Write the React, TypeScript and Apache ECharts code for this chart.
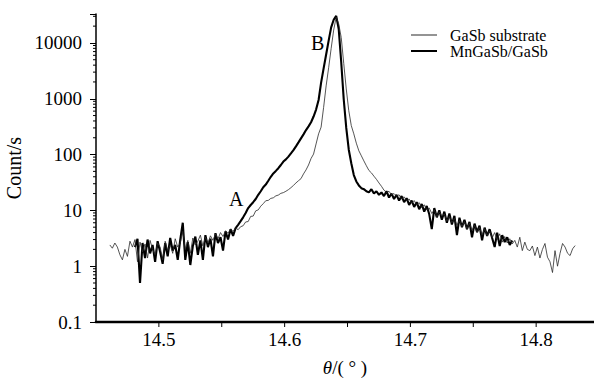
import React, { useEffect, useRef } from 'react';
import * as echarts from 'echarts';

const FONT = '"Liberation Serif", "Times New Roman", serif';

const W = 594;
const H = 379;
const GRID_LEFT = 96;
const GRID_RIGHT = 0;
const GRID_TOP = 14;
const GRID_BOTTOM = 57;

const X_MIN = 14.45;
const X_MAX = 14.846;
const Y_MIN = 0.1;
const Y_MAX = 33000;

const xTickLabels = ['14.5', '14.6', '14.7', '14.8'];
const xTickValues = [14.5, 14.55, 14.6, 14.65, 14.7, 14.75, 14.8];
const yTickLabels = ['0.1', '1', '10', '100', '1000', '10000'];
const minorMultipliers = [2, 3, 4, 5, 6, 7, 8, 9];

const SCAN_STEP = 0.002;
const thinStart = 14.461;
const thickStart = 14.481;

// GaSb substrate (thin line), counts/s
const countThin = [
  2.4, 2.1, 2.6, 2.2, 1.6, 1.3, 2.0, 1.5, 2.8, 2.2,
  3.0, 1.2, 2.7, 1.8, 2.5, 1.4, 2.9, 2.0, 1.6, 2.6,
  2.2, 1.3, 2.8, 1.9, 2.4, 1.7, 3.1, 2.2, 2.6, 4.2,
  2.0, 2.9, 1.7, 3.2, 2.4, 2.8, 3.6, 2.3, 3.3, 2.6,
  3.5, 2.9, 3.8, 3.1, 4.0, 3.4, 4.3, 3.9, 4.6, 4.2,
  4.9, 4.5, 5.1, 5.3, 6.2, 6.3, 7.8, 7.9, 9.8, 10.2,
  11.9, 13.2, 14.9, 15.1, 16.4, 16.8, 18.2, 18.8, 20.2, 20.8,
  22, 23.5, 25.5, 28, 31, 34, 37, 45, 53, 65,
  85, 102, 155, 235, 310, 700, 1700, 3600, 8000, 17000,
  29000, 22000, 12500, 4300, 1500, 610, 330, 235, 160, 117,
  95, 77, 63, 52, 47, 41, 36, 31, 27, 23,
  21, 22, 19, 20, 18, 19, 16, 17.5, 15, 16,
  13.5, 15, 12.5, 13.8, 11.2, 12.6, 10.2, 11.0, 8.8, 10.2,
  7.6, 9.4, 7.9, 8.6, 6.4, 7.8, 6.0, 7.2, 5.4, 6.6,
  5.1, 6.3, 4.6, 5.9, 4.4, 5.4, 4.0, 5.0, 3.6, 4.7,
  3.5, 4.3, 3.2, 4.0, 3.0, 3.8, 2.7, 3.4, 2.6, 3.1,
  2.5, 2.9, 2.2, 3.3, 1.9, 2.7, 2.0, 1.9, 2.3, 1.55,
  2.2, 1.4, 2.0, 2.55, 1.45, 1.2, 0.77, 1.9, 1.0, 1.7,
  2.55, 2.2, 1.7, 1.55, 2.05, 2.34,
];

// MnGaSb/GaSb (thick line), counts/s
const countThick = [
  2.2, 3.1, 0.5, 2.6, 1.4, 3.0, 1.7, 2.4, 1.2, 2.8,
  1.8, 1.1, 2.6, 1.5, 3.2, 1.9, 2.4, 1.3, 3.0, 6.0,
  1.3, 2.7, 1.05, 2.3, 3.4, 1.6, 2.9, 1.3, 3.6, 2.2,
  3.1, 1.5, 3.9, 2.6, 3.3, 1.9, 4.2, 3.0, 4.6, 3.5,
  4.8, 5.5, 6.4, 7.5, 9, 11, 12.5, 14, 16, 19,
  22, 26, 29, 34, 40, 46, 51, 57, 65, 75,
  82, 92, 105, 120, 140, 165, 195, 230, 275, 320,
  380, 480, 640, 950, 1950, 3500, 6200, 11000, 19000, 26000,
  30500, 17800, 4500, 970, 300, 122, 70, 43, 33, 28,
  25, 24, 22, 21, 24, 20, 22, 19, 21, 18,
  22, 17, 20, 16, 19, 15, 18, 14, 16.5, 12.5,
  15, 11.5, 14, 10.5, 13, 9.5, 12, 8.5, 4.6, 11,
  7.5, 10, 6.8, 9.5, 6.0, 8.8, 5.6, 8.0, 3.6, 7.4,
  5.0, 6.8, 4.6, 6.2, 3.3, 5.8, 4.1, 5.3, 2.9, 4.9,
  3.5, 4.6, 3.2, 2.2, 4.0, 2.3, 3.6, 2.7, 3.3, 2.4,
  2.9,
];

const thetaThin = countThin.map((_, i) => +(thinStart + SCAN_STEP * i).toFixed(3));
const thetaThick = countThick.map((_, i) => +(thickStart + SCAN_STEP * i).toFixed(3));

const minorTicks: number[] = [];
for (let e = -1; e <= 4; e++) {
  for (const m of minorMultipliers) {
    const v = m * Math.pow(10, e);
    if (v < Y_MAX) minorTicks.push(v);
  }
}

const labelStyle = { fontFamily: FONT, fontSize: 19, color: '#000' };

// legend line samples (26 px long, thin / thick), with a spacer so the text sits further right
const THIN_ICON = 'path://M0 4.5H26V5.5H0Z M33.9 0H34V0.01H33.9Z M33.9 9.99H34V10H33.9Z';
const THICK_ICON = 'path://M0 4H26V6H0Z M33.9 0H34V0.01H33.9Z M33.9 9.99H34V10H33.9Z';

// x axis baseline and ticks along the grid's bottom edge
const plotW = W - GRID_LEFT - GRID_RIGHT;
const baseY = H - GRID_BOTTOM;
const xPix = (t: number) => GRID_LEFT + ((t - X_MIN) / (X_MAX - X_MIN)) * plotW;
const axisDecor: any[] = [
  {
    type: 'rect',
    z: 100,
    zlevel: 1,
    shape: { x: GRID_LEFT - 0.75, y: baseY - 1, width: plotW + 0.75, height: 2 },
    style: { fill: '#000', stroke: '#000', lineWidth: 0.5 },
  },
  ...xTickValues.map((t) => ({
    type: 'rect',
    z: 100,
    zlevel: 1,
    shape: { x: xPix(t) - 0.5, y: baseY, width: 1, height: 5 },
    style: { fill: '#000' },
  })),
];

const option: any = {
  animation: false,
  grid: {
    left: GRID_LEFT,
    right: GRID_RIGHT,
    top: GRID_TOP,
    bottom: GRID_BOTTOM,
    containLabel: false,
    outerBoundsMode: 'none',
  },
  legend: {
    orient: 'vertical',
    left: 411,
    top: 27,
    padding: 0,
    itemWidth: 34,
    itemHeight: 10,
    itemGap: 0,
    symbolKeepAspect: false,
    textStyle: { fontFamily: FONT, fontSize: 16, color: '#000' },
    data: [
      { name: 'GaSb substrate', icon: THIN_ICON, itemStyle: { color: '#2a2a2a' } },
      { name: 'MnGaSb/GaSb', icon: THICK_ICON, itemStyle: { color: '#000' } },
    ],
  },
  xAxis: {
    type: 'value',
    position: 'bottom',
    min: X_MIN,
    max: X_MAX,
    interval: 0.05,
    name: '{i|θ}/( ° )',
    nameLocation: 'middle',
    nameGap: 36,
    nameTextStyle: {
      ...labelStyle,
      rich: { i: { fontFamily: FONT, fontSize: 19, fontStyle: 'italic', color: '#000' } },
    },
    axisLine: { show: true, onZero: false, lineStyle: { color: '#000', width: 1.5 } },
    axisTick: { show: false },
    splitLine: { show: false },
    axisLabel: {
      ...labelStyle,
      margin: 8,
      formatter: (v: number) => {
        const s = v.toFixed(1);
        return xTickLabels.includes(s) && Math.abs(v - parseFloat(s)) < 1e-6 ? s : '';
      },
    },
  },
  yAxis: {
    type: 'log',
    logBase: 10,
    min: Y_MIN,
    max: Y_MAX,
    name: 'Count/s',
    nameLocation: 'middle',
    nameGap: 68,
    nameTextStyle: { fontFamily: FONT, fontSize: 20, color: '#000' },
    axisLine: { show: true, onZero: false, lineStyle: { color: '#000', width: 1.5 } },
    axisTick: { show: true, length: 6, lineStyle: { color: '#000', width: 1 } },
    splitLine: { show: false },
    axisLabel: {
      ...labelStyle,
      margin: 14,
      formatter: (v: number) => {
        const e = Math.log10(v);
        const r = Math.round(e);
        if (Math.abs(e - r) > 1e-6) return '';
        return yTickLabels[r + 1] ?? '';
      },
    },
  },
  series: [
    {
      name: 'MnGaSb/GaSb',
      type: 'line',
      data: thetaThick.map((t, i) => [t, countThick[i]]),
      symbol: 'none',
      showSymbol: false,
      lineStyle: { color: '#000', width: 2.1 },
      itemStyle: { color: '#000' },
      z: 2,
    },
    {
      name: 'GaSb substrate',
      type: 'line',
      data: thetaThin.map((t, i) => [t, countThin[i]]),
      symbol: 'none',
      showSymbol: false,
      lineStyle: { color: '#2a2a2a', width: 0.8 },
      itemStyle: { color: '#2a2a2a' },
      z: 3,
    },
    {
      // minor ticks of the log axis (2..9 × 10^n)
      type: 'custom',
      silent: true,
      data: minorTicks.map((v) => [X_MIN, v]),
      renderItem: (_params: any, api: any) => {
        const p = api.coord([api.value(0), api.value(1)]);
        return {
          type: 'line',
          shape: { x1: p[0] - 3, y1: p[1], x2: p[0], y2: p[1] },
          style: { stroke: '#000', lineWidth: 1 },
        };
      },
      z: 4,
    },
  ],
  graphic: [
    { type: 'text', left: 229, top: 189, style: { text: 'A', fontFamily: FONT, fontSize: 20, fill: '#000' } },
    { type: 'text', left: 311, top: 33, style: { text: 'B', fontFamily: FONT, fontSize: 20, fill: '#000' } },
    ...axisDecor,
  ],
};

export default function App() {
  const ref = useRef<HTMLDivElement>(null);
  useEffect(() => {
    const chart = echarts.init(ref.current!, null, { renderer: 'svg' });
    chart.setOption(option);
    return () => chart.dispose();
  }, []);
  return (
    <div
      ref={ref}
      style={{ position: 'fixed', left: 0, top: 0, width: W, height: H, background: '#fff' }}
    />
  );
}
